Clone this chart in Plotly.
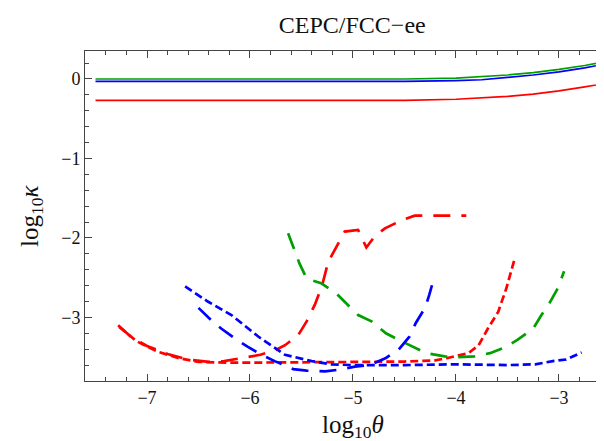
import plotly.graph_objects as go

# -------------------------------------------------------
# data
# -------------------------------------------------------
solid_x = [-7.5, -7.0, -6.5, -6.0, -5.5, -5.0, -4.5, -4.0, -3.75, -3.5, -3.25, -3.0, -2.75, -2.5]
green_solid_y = [0.0, 0.0, 0.0, 0.0, 0.0, 0.0, 0.0, 0.01, 0.03, 0.05, 0.08, 0.12, 0.17, 0.23]
blue_solid_y = [-0.03, -0.03, -0.03, -0.03, -0.03, -0.03, -0.03, -0.02, -0.01, 0.02, 0.05, 0.09, 0.14, 0.20]
red_solid_y = [-0.27, -0.27, -0.27, -0.27, -0.27, -0.27, -0.27, -0.255, -0.24, -0.22, -0.19, -0.15, -0.10, -0.045]

red_long_x = [-7.28, -7.15, -7.0, -6.8, -6.6, -6.4, -6.25, -6.08, -5.9, -5.75, -5.66, -5.53,
              -5.45, -5.37, -5.30, -5.24, -5.15, -5.08, -4.95, -4.87, -4.79, -4.69, -4.53, -4.40, -3.90]
red_long_y = [-3.10, -3.25, -3.36, -3.46, -3.53, -3.56, -3.55, -3.51, -3.47, -3.41, -3.35, -3.22,
              -3.05, -2.84, -2.60, -2.30, -2.09, -1.92, -1.90, -2.12, -1.98, -1.88, -1.78, -1.72, -1.72]

red_short_x = [-7.27, -7.1, -6.9, -6.7, -6.5, -6.2, -5.5, -5.0, -4.5, -4.2, -4.08, -3.88,
               -3.78, -3.69, -3.59, -3.51, -3.43]
red_short_y = [-3.12, -3.30, -3.43, -3.51, -3.56, -3.57, -3.565, -3.56, -3.555, -3.54, -3.51, -3.45,
               -3.35, -3.14, -2.93, -2.63, -2.26]

green_long_x = [-5.63, -5.57, -5.52, -5.45, -5.31, -5.16, -5.07, -4.95, -4.82, -4.68, -4.56, -4.40,
                -4.29, -4.11, -3.98, -3.82, -3.67, -3.51, -3.40, -3.25, -3.17, -3.10, -3.01, -2.95]
green_long_y = [-1.94, -2.15, -2.32, -2.51, -2.57, -2.70, -2.82, -2.97, -3.05, -3.20, -3.28, -3.38,
                -3.45, -3.49, -3.50, -3.49, -3.45, -3.37, -3.28, -3.14, -2.97, -2.84, -2.63, -2.42]

blue_short_x = [-6.63, -6.41, -6.18, -5.92, -5.66, -5.40, -5.21, -5.0, -4.5, -4.0, -3.5, -3.23,
                -3.06, -2.93, -2.78]
blue_short_y = [-2.61, -2.80, -2.97, -3.24, -3.47, -3.55, -3.59, -3.60, -3.60, -3.59, -3.60, -3.59,
                -3.55, -3.53, -3.44]

blue_long_x = [-6.50, -6.38, -6.28, -6.13, -6.02, -5.89, -5.76, -5.58, -5.45, -5.27, -5.15, -4.98,
               -4.84, -4.68, -4.56, -4.45, -4.39, -4.30, -4.26, -4.21]
blue_long_y = [-2.88, -3.03, -3.14, -3.28, -3.37, -3.47, -3.55, -3.65, -3.67, -3.68, -3.66, -3.62,
               -3.60, -3.51, -3.41, -3.24, -3.07, -2.88, -2.72, -2.49]

RED = "#FF0000"
GREEN = "#00A000"
BLUE = "#0000FF"
SHORT = "8px,4px"
LONG = "17px,11px"
FONT = "Liberation Serif"

fig = go.Figure()

def add(x, y, color, dash, width):
    fig.add_trace(go.Scatter(x=x, y=y, mode="lines",
                             line=dict(color=color, dash=dash, width=width)))

add(solid_x, red_solid_y, RED, "solid", 1.7)
add(solid_x, blue_solid_y, BLUE, "solid", 1.7)
add(solid_x, green_solid_y, GREEN, "solid", 1.7)

add(red_long_x, red_long_y, RED, LONG, 2.7)
add(red_short_x, red_short_y, RED, SHORT, 2.7)
add(green_long_x, green_long_y, GREEN, LONG, 2.7)
add(blue_short_x, blue_short_y, BLUE, SHORT, 2.7)
add(blue_long_x, blue_long_y, BLUE, LONG, 2.7)

axis_common = dict(
    showgrid=False, zeroline=False, automargin=False,
    showline=True, linecolor="#444444", linewidth=1, mirror="ticks",
    ticks="inside", ticklen=7, tickcolor="#444444", tickwidth=1,
    tickfont=dict(family=FONT, size=18, color="#111111"),
    tick0=0, dtick=1,
    minor=dict(ticks="inside", ticklen=4, dtick=0.2, tickcolor="#444444", tickwidth=1),
)

fig.update_layout(
    width=604, height=441,
    paper_bgcolor="white", plot_bgcolor="white",
    showlegend=False,
    margin=dict(l=77, r=0, t=43, b=68, autoexpand=False),
    title=dict(text="CEPC/FCC\u2212ee", x=0.570, xanchor="center", y=0.962, yanchor="middle",
               font=dict(family=FONT, size=24, color="#111111")),
    xaxis=dict(range=[-7.602, -2.485], **axis_common),
    yaxis=dict(range=[-3.80, 0.352], **axis_common),
    annotations=[
        dict(text="log<sub>10</sub><i>θ</i>", xref="paper", yref="paper", x=0.508, y=-0.139,
             showarrow=False, xanchor="center", yanchor="middle",
             font=dict(family=FONT, size=25, color="#111111")),
        dict(text="log<sub>10</sub><i>κ</i>", xref="paper", yref="paper", x=-0.1025, y=0.5,
             showarrow=False, xanchor="center", yanchor="middle", textangle=-90,
             font=dict(family=FONT, size=25, color="#111111")),
    ],
)

fig.write_html("out.html")
